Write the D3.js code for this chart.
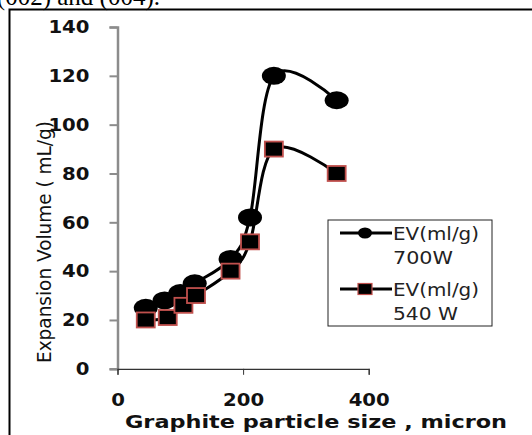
<!DOCTYPE html>
<html>
<head>
<meta charset="utf-8">
<script src="https://cdn.jsdelivr.net/npm/d3@7"></script>
<style>
  body { margin: 0; background: #fff; }
  svg { display: block; }
</style>
</head>
<body>
<svg></svg>
<script>
// graphite particle size (micron) and expansion volume for each power
var sizes700 = [45, 75, 100, 123, 180, 211, 249, 349];
var ev700 = [25, 28, 31, 35, 45, 62, 120, 110];
var sizes540 = [45, 80, 105, 125, 180, 211, 249, 349];
var ev540 = [20, 21, 26, 30, 40, 52, 90, 80];

var seriesNames = ["EV(ml/g)|700W", "EV(ml/g)|540 W"];
var xTicks = [0, 200, 400];
var yTicks = [0, 20, 40, 60, 80, 100, 120, 140];

var width = 532, height = 435;

var svg = d3.select("svg")
    .attr("width", width)
    .attr("height", height);

var x = d3.scaleLinear().domain([0, 400]).range([117.5, 368.7]);
var y = d3.scaleLinear().domain([0, 140]).range([368.8, 27]);

// bit of the document caption cut off above the figure
svg.append("text")
    .attr("x", 160).attr("y", 5)
    .attr("text-anchor", "end")
    .style("font-family", "'Liberation Serif', serif")
    .style("font-size", "25px")
    .text("(002) and (004).");

// frame of the figure, runs off the page to the right and bottom
svg.append("path")
    .attr("d", "M9.5," + height + "V9.5H" + width)
    .attr("fill", "none")
    .attr("stroke", "#000")
    .attr("stroke-width", 2);

// y axis
var yAxis = svg.append("g")
    .attr("transform", "translate(" + x(0) + ",0)")
    .call(d3.axisLeft(y).tickValues(yTicks).tickSize(8).tickPadding(20).tickFormat(d3.format("d")));
yAxis.select(".domain").attr("stroke", "#8c8c8c").attr("stroke-width", 2.5);
yAxis.selectAll(".tick line").attr("stroke", "#8c8c8c").attr("stroke-width", 2);
yAxis.selectAll(".tick text")
    .style("font-family", "'DejaVu Sans', sans-serif")
    .style("font-weight", "bold")
    .style("font-size", "18px")
    .attr("fill", "#111")
    .attr("textLength", function(d) { return String(d).length * 13.7; })
    .attr("lengthAdjust", "spacingAndGlyphs");

// x axis
var xAxis = svg.append("g")
    .attr("transform", "translate(0," + y(0) + ")")
    .call(d3.axisBottom(x).tickValues(xTicks).tickSize(6).tickSizeOuter(6));
xAxis.select(".domain").attr("stroke", "#333").attr("stroke-width", 1.2);
xAxis.selectAll(".tick line").attr("stroke", "#333");
xAxis.selectAll(".tick text")
    .attr("y", 37).attr("dy", null)
    .style("font-family", "'DejaVu Sans', sans-serif")
    .style("font-weight", "bold")
    .style("font-size", "18px")
    .attr("fill", "#111")
    .attr("textLength", function(d) { return String(d).length * 13.7; })
    .attr("lengthAdjust", "spacingAndGlyphs");

// axis titles
svg.append("text")
    .attr("x", 125).attr("y", 428)
    .style("font-family", "'DejaVu Sans', sans-serif")
    .style("font-weight", "bold")
    .style("font-size", "17px")
    .attr("fill", "#111")
    .attr("textLength", 382)
    .attr("lengthAdjust", "spacingAndGlyphs")
    .text("Graphite particle size , micron");

svg.append("text")
    .attr("transform", "translate(51,363) rotate(-90)")
    .style("font-family", "'DejaVu Sans', sans-serif")
    .style("font-size", "19px")
    .attr("fill", "#111")
    .attr("textLength", 242)
    .attr("lengthAdjust", "spacingAndGlyphs")
    .text("Expansion Volume ( mL/g)");

// smoothed lines like the spreadsheet
var line = d3.line()
    .x(function(d) { return x(d[0]); })
    .y(function(d) { return y(d[1]); })
    .curve(d3.curveCardinal.tension(0));

var pts700 = d3.zip(sizes700, ev700);
var pts540 = d3.zip(sizes540, ev540);

svg.append("path").datum(pts700)
    .attr("d", line)
    .attr("fill", "none").attr("stroke", "#000").attr("stroke-width", 3);
svg.append("path").datum(pts540)
    .attr("d", line)
    .attr("fill", "none").attr("stroke", "#000").attr("stroke-width", 3);

svg.selectAll(".dot700").data(pts700).enter()
    .append("ellipse")
    .attr("cx", function(d) { return x(d[0]); })
    .attr("cy", function(d) { return y(d[1]); })
    .attr("rx", 12).attr("ry", 9)
    .attr("fill", "#000");

svg.selectAll(".sq540").data(pts540).enter()
    .append("rect")
    .attr("x", function(d) { return x(d[0]) - 9; })
    .attr("y", function(d) { return y(d[1]) - 7.5; })
    .attr("width", 18).attr("height", 15)
    .attr("fill", "#000")
    .attr("stroke", "#c0504d").attr("stroke-width", 1.8);

// legend
var legend = svg.append("g").attr("transform", "translate(328,220)");
legend.append("rect")
    .attr("x", 0).attr("y", 0).attr("width", 164).attr("height", 106)
    .attr("fill", "#fff").attr("stroke", "#222").attr("stroke-width", 1);

var items = legend.selectAll(".item").data(seriesNames).enter()
    .append("g")
    .attr("transform", function(d, i) { return "translate(0," + (i === 0 ? 13 : 69) + ")"; });

items.append("line")
    .attr("x1", 12).attr("x2", 64).attr("y1", 0).attr("y2", 0)
    .attr("stroke", "#000").attr("stroke-width", 3);

items.filter(function(d, i) { return i === 0; })
    .append("ellipse")
    .attr("cx", 37).attr("cy", 0).attr("rx", 7).attr("ry", 5.5)
    .attr("fill", "#000");

items.filter(function(d, i) { return i === 1; })
    .append("rect")
    .attr("x", 30).attr("y", -5.5).attr("width", 14).attr("height", 11)
    .attr("fill", "#000").attr("stroke", "#c0504d").attr("stroke-width", 1.2);

var widths = [[86, 60], [86, 65]];
items.each(function(d, i) {
    var parts = d.split("|");
    var g = d3.select(this);
    parts.forEach(function(p, j) {
        g.append("text")
            .attr("x", 65).attr("y", 7 + j * 24)
            .style("font-family", "'DejaVu Sans', sans-serif")
            .style("font-size", "17px")
            .attr("fill", "#222")
            .attr("textLength", widths[i][j])
            .attr("lengthAdjust", "spacingAndGlyphs")
            .text(p);
    });
});
</script>
</body>
</html>
